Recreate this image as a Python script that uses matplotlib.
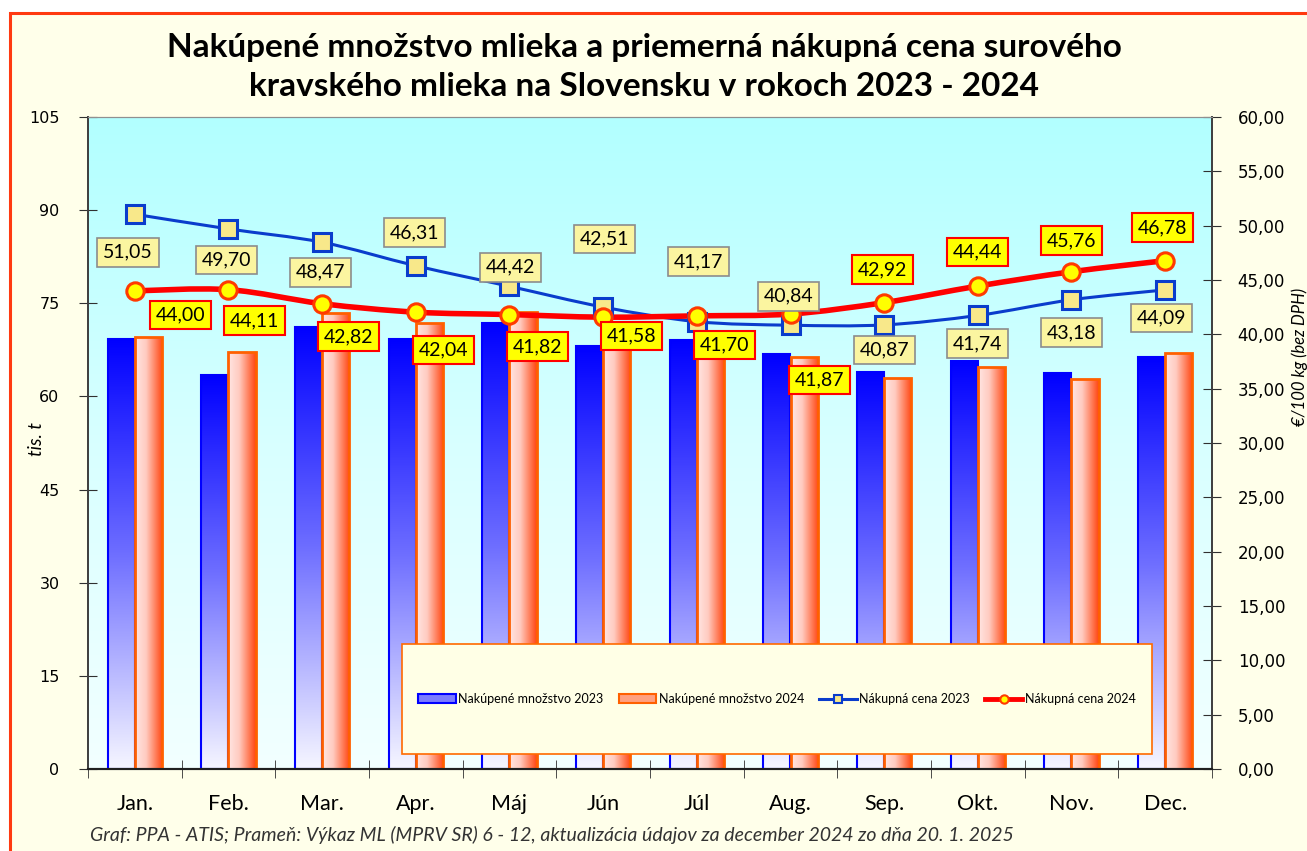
import numpy as np
import matplotlib
matplotlib.use("Agg")
import matplotlib.pyplot as plt
import matplotlib.ticker as mticker
from matplotlib.colors import LinearSegmentedColormap
from matplotlib.patches import Rectangle, Patch, PathPatch
from matplotlib.lines import Line2D
from matplotlib.path import Path

plt.rcParams["font.family"] = ["Lato", "DejaVu Sans"]

months = ["Jan.", "Feb.", "Mar.", "Apr.", "Máj", "Jún", "Júl", "Aug.", "Sep.", "Okt.", "Nov.", "Dec."]
qty_2023 = [69.3, 63.4, 71.2, 69.2, 71.8, 68.2, 69.1, 66.8, 64.0, 65.7, 63.7, 66.3]
qty_2024 = [69.6, 67.2, 73.5, 71.9, 73.6, 68.6, 66.4, 66.3, 63.0, 64.8, 62.8, 67.0]
price_2023 = [51.05, 49.70, 48.47, 46.31, 44.42, 42.51, 41.17, 40.84, 40.87, 41.74, 43.18, 44.09]
price_2024 = [44.00, 44.11, 42.82, 42.04, 41.82, 41.58, 41.70, 41.87, 42.92, 44.44, 45.76, 46.78]

# label offsets in pixels (dx, dy down)
off_2023 = [(-7, 38), (-2, 31), (-2, 30), (-1, -33), (1, -19), (1, -68),
            (2, -60), (-2, -29), (0, 25), (0, 28), (0, 33), (-4, 28)]
off_2024 = [(46, 24), (26, 31), (26, 33), (28, 38), (28, 32), (28, 19),
            (28, 29), (29, 66), (-2, -33), (0, -34), (0, -31), (-3, -33)]

W, H = 1307, 851
fig = plt.figure(figsize=(W / 100, H / 100), dpi=100, facecolor="white")

# outer frame
fig.patches.append(Rectangle((10 / W, -0.1), 1.2, 1 - 13 / H + 0.1, transform=fig.transFigure,
                             facecolor="#FFFFEA", edgecolor="#FF3A10", linewidth=2.2, zorder=-10))

ax = fig.add_axes([88 / W, 1 - 769 / H, (1212 - 88) / W, (769 - 117) / H])
ax2 = ax.twinx()

# plot area background
bg = LinearSegmentedColormap.from_list("bg", ["#B2FFFF", "#D8FFFF", "#F2FFFF"])
ax.imshow(np.linspace(0, 1, 256).reshape(-1, 1), cmap=bg, aspect="auto",
          extent=[0, 1, 0, 1], transform=ax.transAxes, zorder=0)

x = np.arange(len(months))
bw = 0.29
blue_cmap = LinearSegmentedColormap.from_list("b", ["#0000FF", "#6E6EFF", "#F6F6FF"])
orange_cmap = LinearSegmentedColormap.from_list("o", [(0, "#FFE6E3"), (0.4, "#FFCBC0"), (1, "#FF4510")])

b1 = ax.bar(x - bw / 2, qty_2023, bw, facecolor="none", edgecolor="#0000FF", linewidth=1.5, zorder=3)
b2 = ax.bar(x + bw / 2, qty_2024, bw, facecolor="none", edgecolor="#FF6000", linewidth=2.0, zorder=3)
vgrad = np.linspace(0, 1, 256).reshape(-1, 1)
hgrad = np.linspace(0, 1, 256).reshape(1, -1)
for r in b1:
    x0, y0, w, h = r.get_x(), r.get_y(), r.get_width(), r.get_height()
    im = ax.imshow(vgrad, cmap=blue_cmap, aspect="auto", extent=[x0, x0 + w, y0, y0 + h], zorder=2)
    im.set_clip_path(r)
for r in b2:
    x0, y0, w, h = r.get_x(), r.get_y(), r.get_width(), r.get_height()
    im = ax.imshow(hgrad, cmap=orange_cmap, aspect="auto", extent=[x0, x0 + w, y0, y0 + h], zorder=2)
    im.set_clip_path(r)

ax.set_xlim(-0.5, 11.5)
ax.set_ylim(0, 105)
ax2.set_ylim(0, 60)


def smooth_path(xs, ys):
    pts = np.column_stack([xs, ys]).astype(float)
    verts, codes = [pts[0]], [Path.MOVETO]
    n = len(pts)
    for i in range(n - 1):
        p0, p1, p2, p3 = pts[max(i - 1, 0)], pts[i], pts[i + 1], pts[min(i + 2, n - 1)]
        verts += [p1 + (p2 - p0) / 6, p2 - (p3 - p1) / 6, p2]
        codes += [Path.CURVE4] * 3
    return Path(verts, codes)


ax2.add_patch(PathPatch(smooth_path(x, price_2023), fill=False, edgecolor="#0A3CCC",
                        linewidth=2.2, zorder=4))
ax2.add_patch(PathPatch(smooth_path(x, price_2024), fill=False, edgecolor="#FF0000",
                        linewidth=4.0, zorder=5, capstyle="round"))
ax2.plot(x, price_2023, ls="none", marker="s", ms=12.5, mfc="#F8E88A", mec="#0A3CCC", mew=2.2, zorder=6)
ax2.plot(x, price_2024, ls="none", marker="o", ms=12.5, mfc="#FFFF00", mec="#FF3A00", mew=2.2, zorder=7)


def fmt(v):
    return f"{v:.2f}".replace(".", ",")


for i, v in enumerate(price_2023):
    dx, dy = off_2023[i]
    ax2.annotate(fmt(v), (x[i], v), xytext=(dx, -dy), textcoords="offset pixels",
                 ha="center", va="center", fontsize=14, zorder=8,
                 bbox=dict(boxstyle="square,pad=0.3", facecolor="#FBF5A0", edgecolor="#8C8C8C", linewidth=1.2))
for i, v in enumerate(price_2024):
    dx, dy = off_2024[i]
    ax2.annotate(fmt(v), (x[i], v), xytext=(dx, -dy), textcoords="offset pixels",
                 ha="center", va="center", fontsize=14, zorder=9,
                 bbox=dict(boxstyle="square,pad=0.3", facecolor="#FFFF00", edgecolor="#FF0000", linewidth=1.5))

# axes styling
ax.yaxis.set_major_locator(mticker.MultipleLocator(15))
ax2.yaxis.set_major_locator(mticker.MultipleLocator(5))
ax2.yaxis.set_major_formatter(mticker.FuncFormatter(lambda v, p: fmt(v)))
ax.set_xticks(x)
ax.set_xticklabels(months, fontsize=15.5)
ax.set_xticks(np.arange(-0.5, 12, 1), minor=True)
ax.tick_params(axis="x", which="major", length=0, pad=18)
ax.tick_params(axis="x", which="minor", length=13, direction="inout", color="#303030")
ax.tick_params(axis="y", length=13, direction="inout", color="#303030", labelsize=11.5, pad=14)
ax2.tick_params(axis="y", length=13, direction="inout", color="#303030", labelsize=12, pad=12)
for lab in ax.get_yticklabels() + ax2.get_yticklabels():
    lab.set_fontfamily("DejaVu Sans")

for a in (ax, ax2):
    a.spines["left"].set_color("#404040")
    a.spines["right"].set_color("#404040")
    a.spines["bottom"].set_color("#202020")
    a.spines["top"].set_color("#909090")
    a.spines["left"].set_linewidth(1.3)
    a.spines["right"].set_linewidth(1.3)
    a.spines["bottom"].set_linewidth(1.5)
ax2.patch.set_visible(False)

# legend box
ax2.add_patch(Rectangle((0.279, 0.023), 0.668, 0.169, transform=ax2.transAxes,
                        facecolor="#FFFFE6", edgecolor="#FF6A00", linewidth=1.2, zorder=10))
handles = [
    Patch(facecolor="#7C7CFF", edgecolor="#0000FF", linewidth=1.5),
    Patch(facecolor="#FFA080", edgecolor="#FF6000", linewidth=1.5),
    Line2D([], [], color="#0A3CCC", lw=2.2, marker="s", ms=6, mfc="#F8E88A", mec="#0A3CCC", mew=1.5),
    Line2D([], [], color="#FF0000", lw=3.5, marker="o", ms=6, mfc="#FFFF00", mec="#FF3A00", mew=1.5),
]
labels = ["Nakúpené množstvo 2023", "Nakúpené množstvo 2024", "Nákupná cena 2023", "Nákupná cena 2024"]
leg = ax2.legend(handles, labels, loc="center", bbox_to_anchor=(0.613, 0.1075), ncol=4,
                 frameon=False, fontsize=9, handlelength=3.0, handleheight=0.7,
                 handletextpad=0.2, columnspacing=1.2)
leg.set_zorder(11)

fig.text(644 / W, 1 - 67 / H,
         "Nakúpené množstvo mlieka a priemerná nákupná cena surového\nkravského mlieka na Slovensku v rokoch 2023 - 2024",
         ha="center", va="center", fontsize=24, fontweight="bold", linespacing=1.38)
fig.text(36 / W, 1 - 439 / H, "tis. t", rotation=90, ha="center", va="center",
         fontsize=13.5, fontstyle="italic")
fig.text(1300 / W, 1 - 357 / H, "€/100 kg (bez DPH)", rotation=90, ha="center", va="center",
         fontsize=12, fontstyle="italic")
fig.text(90 / W, 1 - 835 / H,
         "Graf: PPA - ATIS; Prameň: Výkaz ML (MPRV SR) 6 - 12, aktualizácia údajov za december 2024 zo dňa 20. 1. 2025",
         ha="left", va="center", fontsize=14, fontstyle="italic", color="#333333")

fig.savefig("out.png", dpi=100, facecolor=fig.get_facecolor())
